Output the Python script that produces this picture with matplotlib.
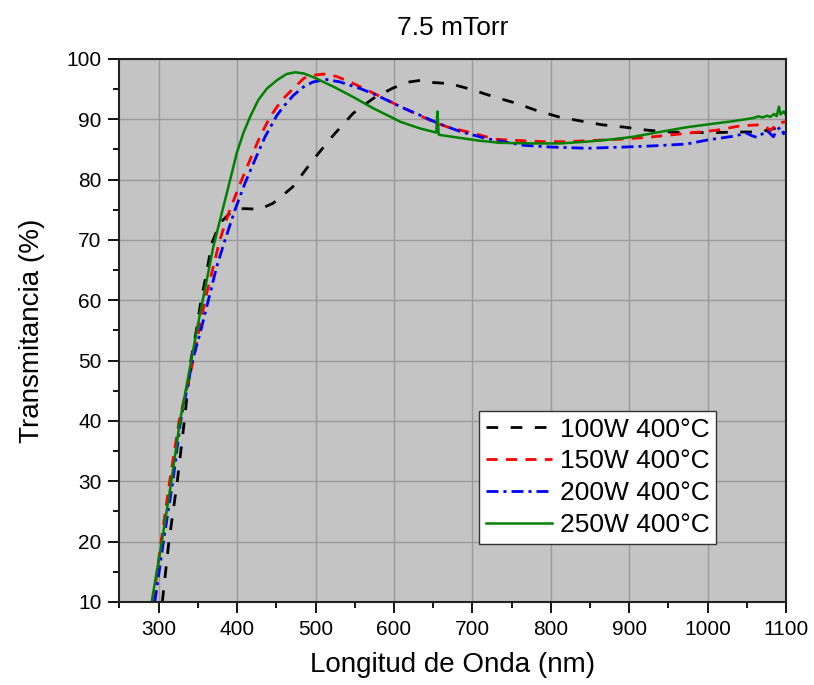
import matplotlib.pyplot as plt
from matplotlib.ticker import MultipleLocator

plt.rcParams['font.family'] = ['Liberation Sans', 'DejaVu Sans']

# 100W 400°C
wl_100 = [304.6, 313, 323.7, 332.7, 341, 348, 354, 361, 367.6, 378, 393, 408, 429, 446, 471, 497, 523,
          548, 574, 599, 620, 636, 650, 672, 700, 728, 755, 781, 810, 839, 865, 894, 923, 952, 980,
          1010, 1039, 1067, 1080, 1095, 1100]
tr_100 = [10.0, 20.0, 30.0, 40.0, 50.0, 55.0, 60.0, 64.5, 69.4, 72.8, 74.7, 75.2, 75.1, 76.1, 78.8,
          83.3, 87.4, 91.0, 93.5, 95.2, 96.2, 96.5, 96.1, 95.9, 94.9, 93.7, 92.7, 91.5, 90.4, 89.7,
          89.1, 88.7, 88.2, 87.9, 87.8, 87.8, 87.9, 87.9, 88.3, 88.8, 88.6]

# 150W 400°C
wl_150 = [293, 303, 314, 326, 344, 350.5, 359, 367.6, 378, 389, 404, 416.5, 429, 442, 457, 474, 485,
          497, 510, 527, 544, 565, 587, 608, 630, 650, 669, 701, 729, 757, 791, 820, 854, 888, 923,
          952, 982, 1012, 1041, 1067, 1075, 1080, 1085, 1088, 1095, 1100]
tr_150 = [10.0, 20.0, 30.0, 40.0, 50.0, 54.5, 60.0, 64.5, 70.0, 74.4, 79.4, 83.3, 87.1, 90.4, 93.2,
          95.4, 96.8, 97.3, 97.5, 97.1, 96.2, 94.9, 93.5, 92.1, 90.8, 89.6, 88.7, 87.7, 86.7, 86.5,
          86.3, 86.3, 86.5, 86.7, 87.0, 87.4, 87.8, 88.2, 88.9, 89.1, 88.7, 88.1, 88.8, 89.3, 89.5,
          89.6]

# 200W 400°C
wl_200 = [295, 306, 318, 328, 343, 352.7, 363.3, 374, 384.6, 397.3, 410, 422.8, 435.6, 450.5, 459, 472,
          485, 497, 514, 531, 557, 578, 608, 633, 657, 684, 718, 765, 801, 846, 893, 931, 973, 1001,
          1033, 1050, 1056, 1063, 1070, 1076, 1080, 1084, 1088, 1093, 1097, 1100]
tr_200 = [10.0, 20.0, 30.0, 40.0, 50.0, 54.5, 60.0, 65.6, 70.0, 75.0, 79.4, 83.3, 87.1, 90.6, 92.1,
          94.0, 95.4, 96.2, 96.6, 96.2, 95.1, 94.0, 92.1, 90.7, 89.3, 88.0, 86.8, 85.7, 85.4, 85.2,
          85.4, 85.6, 85.9, 86.6, 87.2, 87.7, 87.3, 87.0, 87.6, 88.1, 87.6, 87.1, 88.2, 88.7, 87.6,
          87.9]

# 250W 400°C
wl_250 = [291, 304, 316, 327, 341.5, 346.3, 352.7, 361.2, 369.7, 378.2, 384.6, 391, 399.5, 407.9, 416.5,
          427, 438, 451, 463, 474, 485, 497, 523, 548, 574, 599, 608, 633, 654, 655.5, 657, 659, 680,
          706, 735, 778, 812, 846, 880, 905, 939, 974, 1003, 1033, 1058, 1065, 1070, 1076, 1080, 1085,
          1088, 1091, 1093, 1097, 1100]
tr_250 = [10.0, 20.0, 29.9, 39.9, 50.0, 53.4, 57.8, 63.3, 68.9, 73.3, 76.6, 79.9, 84.4, 87.7, 90.4,
          93.2, 95.1, 96.5, 97.5, 97.8, 97.6, 97.0, 95.4, 93.7, 91.8, 90.2, 89.6, 88.5, 87.8, 91.3,
          87.5, 87.4, 87.0, 86.5, 86.1, 86.0, 86.0, 86.3, 86.7, 87.1, 87.9, 88.7, 89.2, 89.7, 90.2,
          90.5, 90.3, 90.6, 90.4, 90.9, 90.5, 92.1, 90.8, 91.3, 90.7]

labels = ['100W 400°C', '150W 400°C', '200W 400°C', '250W 400°C']

fig = plt.figure(figsize=(8.14, 6.85), dpi=100)
ax = fig.add_axes([0.1468, 0.1212, 0.8188, 0.7927])
ax.set_facecolor('#c4c4c4')

ax.plot(wl_100, tr_100, color='black', lw=2.0, dashes=(4.2, 4.5), label=labels[0])
ax.plot(wl_150, tr_150, color='red', lw=2.0, dashes=(4.0, 3.0), label=labels[1])
ax.plot(wl_200, tr_200, color='blue', lw=2.0, dashes=(4.3, 1.8, 1.1, 1.8), label=labels[2])
ax.plot(wl_250, tr_250, color='#008000', lw=1.8, label=labels[3])

ax.set_xlim(250, 1100)
ax.set_ylim(10, 100)
ax.xaxis.set_major_locator(MultipleLocator(100))
ax.xaxis.set_minor_locator(MultipleLocator(50))
ax.yaxis.set_major_locator(MultipleLocator(10))
ax.yaxis.set_minor_locator(MultipleLocator(5))
ax.grid(True, which='major', color='#9a9a9a', lw=1.0)
ax.set_axisbelow(True)

ax.tick_params(which='major', direction='out', length=8, width=1.3, labelsize=15, pad=5)
ax.tick_params(which='minor', direction='out', length=4, width=1.3)
for s in ax.spines.values():
    s.set_linewidth(1.5)
    s.set_color('#222222')

ax.set_xlabel('Longitud de Onda (nm)', fontsize=20, labelpad=9)
ax.set_ylabel('Transmitancia (%)', fontsize=20, labelpad=15)
ax.set_title('7.5 mTorr', fontsize=19, pad=17)

leg = ax.legend(loc='lower right', bbox_to_anchor=(0.895, 0.107), fontsize=19, frameon=True,
                fancybox=False, edgecolor='#333333', framealpha=1, handlelength=2.5,
                borderpad=0.25, labelspacing=0.3, handletextpad=0.3, borderaxespad=0)
leg.get_frame().set_linewidth(1.0)

fig.savefig('out.png', dpi=100)
